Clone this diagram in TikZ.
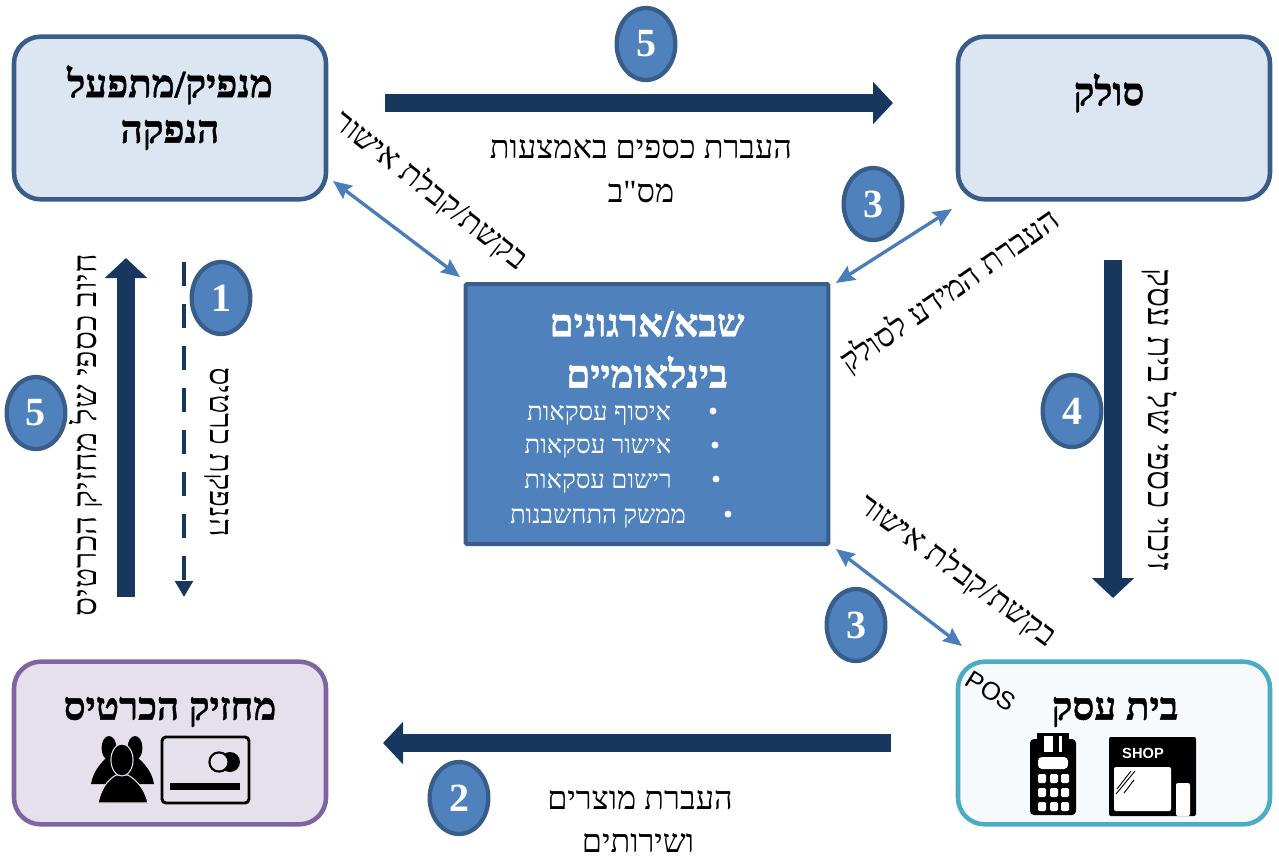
\documentclass[tikz,border=0pt]{standalone}
\usepackage{fontspec}
\usetikzlibrary{arrows.meta,shapes.geometric,calc}
\TeXXeTstate=1
\setmainfont{Liberation Serif}
\newfontfamily\hebfont[Script=Hebrew]{Liberation Serif}
\newfontfamily\hebbold[Script=Hebrew,FakeBold=1.2]{Liberation Serif Bold}
\newfontfamily\possans{Liberation Sans}
\newcommand{\heb}[1]{{\beginR #1\endR}}
\definecolor{navy}{HTML}{17375E}
\definecolor{midblue}{HTML}{4F81BD}
\definecolor{edgeblue}{HTML}{385D8A}
\definecolor{palecard}{HTML}{DCE6F2}
\definecolor{lilac}{HTML}{E6E0EC}
\definecolor{lilacedge}{HTML}{8064A2}
\definecolor{tealedge}{HTML}{4BACC6}
\definecolor{palewhite}{HTML}{F6FAFC}
\definecolor{bibar}{HTML}{4A7EBB}
\tikzset{
  x=0.75pt,y=-0.75pt,
  party/.style={draw=edgeblue,fill=palecard,line width=3.4pt,rounded corners=20pt,minimum width=234pt,minimum height=122pt,inner sep=0pt},
  hub/.style={draw=edgeblue,fill=midblue,line width=3pt,minimum width=272pt,minimum height=195pt,inner sep=0pt,rounded corners=1pt},
  badge/.style={ellipse,draw=edgeblue,fill=midblue,line width=3.2pt,minimum width=44pt,minimum height=54pt,inner sep=0pt,text=white,font=\bfseries\fontsize{30}{30}\selectfont},
  title/.style={font=\hebbold\fontsize{29}{30}\selectfont,inner sep=0pt,text=black},
  lab/.style={font=\hebfont\fontsize{24.3}{26}\selectfont,inner sep=0pt,text=black},
  itemtxt/.style={font=\hebfont\fontsize{19.3}{20}\selectfont,inner sep=0pt,text=white},
  bigarrow/.style={draw=navy,line width=13.5pt,-{Triangle[length=15pt,width=31pt]}},
  thinarrow/.style={draw=bibar,line width=2.5pt,{Stealth[length=14pt,width=12pt,inset=2pt]}-{Stealth[length=14pt,width=12pt,inset=2pt]}},
  dasharrow/.style={draw=navy,line width=3.4pt,dash pattern=on 18pt off 13.5pt,-{Triangle[length=12pt,width=13pt]}},
}
\begin{document}
\begin{tikzpicture}
\useasboundingbox (0,0) rectangle (1279,858);
% parties
\node[party] (issuer) at (170,118) {};
\node[party] (acquirer) at (1114,118) {};
\node[party,draw=lilacedge,fill=lilac] (holder) at (170,743) {};
\node[party,draw=tealedge,fill=palewhite] (merchant) at (1114,743) {};
\node[hub] (hubbox) at (647,414) {};
% party titles
\node[title] (t1) at (170,85) {\heb{מנפיק/מתפעל}};
\node[title] (t2) at (170,135) {\heb{הנפקה}};
\node[title] (t3) at (1109,93) {\heb{סולק}};
\node[title] (t4) at (170,712) {\heb{מחזיק הכרטיס}};
\node[title] (t5) at (1115,712) {\heb{בית עסק}};
\node[title,text=white] (h1) at (647,324) {\heb{שבא/ארגונים}};
\node[title,text=white] (h2) at (647,372) {\heb{בינלאומיים}};
% hub items
\node[itemtxt] (i1) at (599,415) {\heb{איסוף עסקאות}};
\node[itemtxt] (i2) at (598,448) {\heb{אישור עסקאות}};
\node[itemtxt] (i3) at (598,483) {\heb{רישום עסקאות}};
\node[itemtxt] (i4) at (598,518) {\heb{ממשק התחשבנות}};
\fill[white] (713,411) circle (2.6pt) (715,445) circle (2.6pt) (716,479) circle (2.6pt) (728,514) circle (2.6pt);
% arrows
\coordinate (a5s) at (385,103); \coordinate (a5e) at (893,103);
\coordinate (a2s) at (891,743); \coordinate (a2e) at (383,743);
\coordinate (a4s) at (1113,260); \coordinate (a4e) at (1113,598);
\coordinate (a6s) at (126,597); \coordinate (a6e) at (126,258);
\coordinate (a1s) at (184,262); \coordinate (a1e) at (184,597);
\draw[bigarrow] (a5s) -- (a5e);
\draw[bigarrow] (a2s) -- (a2e);
\draw[bigarrow] (a4s) -- (a4e);
\draw[bigarrow] (a6s) -- (a6e);
\draw[dasharrow] (a1s) -- (a1e);
\coordinate (d1a) at (333,181); \coordinate (d1b) at (460,277);
\coordinate (d2a) at (952,209); \coordinate (d2b) at (836,283);
\coordinate (d3a) at (836,549); \coordinate (d3b) at (962,646);
\draw[thinarrow] (d1a) -- (d1b);
\draw[thinarrow] (d2a) -- (d2b);
\draw[thinarrow] (d3a) -- (d3b);
% badges
\node[badge] (b5a) at (646,44) {5};
\node[badge] (b3a) at (873,204) {3};
\node[badge] (b1) at (221,298) {1};
\node[badge] (b5b) at (36,413) {5};
\node[badge] (b4) at (1072,411) {4};
\node[badge] (b3b) at (856,625) {3};
\node[badge] (b2) at (459,798) {2};
% labels
\node[lab] (l1) at (641,149) {\heb{העברת כספים באמצעות}};
\node[lab] (l2) at (641,192) {\heb{מס"ב}};
\node[lab] (l3) at (640,800) {\heb{העברת מוצרים}};
\node[lab] (l4) at (638,843) {\heb{ושירותים}};
\node[lab,rotate=-38] (l5) at (431,190) {\heb{בקשת/קבלת אישור}};
\node[lab,rotate=35] (l6) at (950,291) {\heb{העברת המידע לסולק}};
\node[lab,rotate=-36] (l7) at (958,570) {\heb{בקשת/קבלת אישור}};
\node[lab,rotate=-90,font=\hebfont\fontsize{26.5}{28}\selectfont] (l8) at (1160,420) {\heb{זיכוי כספי של בית עסק}};
\node[lab,rotate=90,font=\hebfont\fontsize{25}{27}\selectfont] (l9) at (86,435) {\heb{חיוב כספי של מחזיק הכרטיס}};
\node[lab,rotate=-90] (l10) at (217,452) {\heb{הנפקת כרטיס}};
\node[font=\possans\fontsize{19}{19}\selectfont,rotate=-32,inner sep=0pt] (pos) at (991,691) {POS};
% card icon
\draw[black,line width=2.2pt,rounded corners=3pt] (162,737) rectangle (249,803);
\fill[black] (170,783) rectangle (240,790);
\fill[black] (230,762) circle (7.5pt);
\draw[black,fill=lilac,line width=1.6pt] (219,762) circle (7.2pt);
% people icon
\fill[black] (109,748) ellipse (5.6pt and 9pt) (135,748) ellipse (5.6pt and 9pt);
\fill[black] (91,784) .. controls (93,772) and (100,764) .. (106,758) -- (138,758) .. controls (145,764) and (152,772) .. (154,784) -- cycle;
\draw[lilac,fill=black,line width=0.8pt] (98,803) .. controls (101,790) and (106,781) .. (116,775) -- (128,775) .. controls (138,781) and (145,790) .. (148,803) -- cycle;
\draw[lilac,fill=black,line width=0.8pt] (122,760) ellipse (8.3pt and 12pt);
% POS terminal
\fill[black,rounded corners=3pt] (1030,739) rectangle (1076,815);
\fill[black] (1037,733) rectangle (1069,742);
\fill[white] (1044,736) rectangle (1053,752);
\fill[white] (1059,736) rectangle (1062,752);
\fill[white,rounded corners=3pt] (1038,757) rectangle (1068,769);
\foreach \yy in {774,788,802}{\foreach \xx in {1038,1050,1061}{\fill[white,rounded corners=1pt] (\xx,\yy) rectangle ++(8,9);}}
% shop icon
\fill[black,rounded corners=1.5pt] (1109,737) rectangle (1196,816);
\fill[white,rounded corners=1.5pt] (1114,767) rectangle (1171,811);
\fill[white,rounded corners=1.5pt] (1176,783) rectangle (1190,816);
\draw[black,line width=0.7pt] (1117,789) -- (1131,771) (1116,794) -- (1135,771) (1124,793) -- (1134,780);
\node[font=\possans\bfseries\fontsize{11}{12}\selectfont,text=white,inner sep=0pt] (shop) at (1143,753) {SHOP};
\end{tikzpicture}
\end{document}
